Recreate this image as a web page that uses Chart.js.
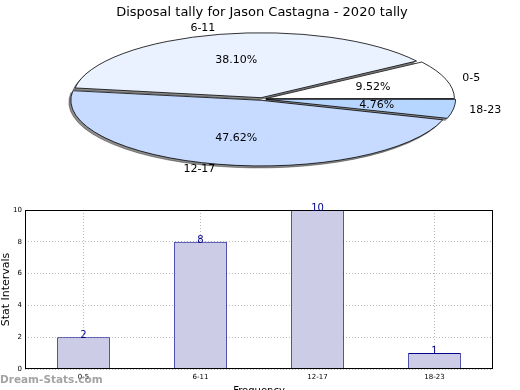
<!DOCTYPE html>
<html lang="en">
<head>
<meta charset="UTF-8">
<title>Disposal tally - Jason Castagna 2020</title>
<script src="https://cdn.jsdelivr.net/npm/chart.js"></script>
<style>
  html, body { margin: 0; padding: 0; background: #fff; width: 520px; height: 390px; overflow: hidden; }
  #barChart, #pieChart { position: absolute; left: 0; top: 0; }
  .watermark {
    position: absolute; left: 0; top: 373px;
    font: bold 10.5px 'DejaVu Sans', sans-serif;
    color: rgba(140, 140, 140, 0.8);
  }
</style>
</head>
<body>
<canvas id="barChart" width="520" height="400"></canvas>
<canvas id="pieChart" width="520" height="200"></canvas>
<div class="watermark">Dream-Stats.com</div>

<script>
// data
const intervals = ['0-5', '6-11', '12-17', '18-23'];
const tally = [2, 8, 10, 1];
const sliceColors = ['#ffffff', '#eaf1ff', '#c6dbff', '#b7d6ff'];

// pie is drawn as a squashed ellipse (like the matplotlib original)
const RX = 187, RY = 64.5;
const SHADOW_DX = -2, SHADOW_DY = 2;
const FONT = "'DejaVu Sans', sans-serif";

const ellipsePie = {
    id: 'ellipsePie',
    beforeDatasetsDraw(chart) {
        const ctx = chart.ctx;
        const arcs = chart.getDatasetMeta(0).data;
        const cx = arcs[0].x, cy = arcs[0].y, r = arcs[0].outerRadius;
        const sx = RX / r, sy = RY / r;
        chart.$ell = { sx, sy };
        const base = ctx.getTransform();
        ctx.save();
        ctx.translate(cx, cy);
        ctx.scale(sx, sy);
        ctx.translate(-cx, -cy);
        // keep border width even although the path is stretched
        ctx.stroke = function () {
            this.save();
            this.setTransform(base);
            CanvasRenderingContext2D.prototype.stroke.call(this);
            this.restore();
        };
        // shadow pass under the slices
        ctx.save();
        ctx.translate(SHADOW_DX / sx, SHADOW_DY / sy);
        ctx.filter = 'brightness(0) opacity(0.45)';
        arcs.forEach(a => a.draw(ctx));
        ctx.restore();
    },
    afterDatasetsDraw(chart) {
        const ctx = chart.ctx;
        delete ctx.stroke;
        ctx.restore();

        const { sx, sy } = chart.$ell;
        const values = chart.data.datasets[0].data;
        const total = values.reduce((s, v) => s + v, 0);
        ctx.save();
        ctx.fillStyle = '#000';
        ctx.font = '11px ' + FONT;
        ctx.textBaseline = 'middle';
        chart.getDatasetMeta(0).data.forEach((arc, i) => {
            const mid = (arc.startAngle + arc.endAngle) / 2;
            const off = (arc.options.offset || 0) / 4;
            const at = k => ({
                x: arc.x + (arc.outerRadius * k + off) * Math.cos(mid) * sx,
                y: arc.y + (arc.outerRadius * k + off) * Math.sin(mid) * sy
            });
            const p = at(0.6);
            ctx.textAlign = 'center';
            ctx.fillText((values[i] / total * 100).toFixed(2) + '%', p.x, p.y);
            const q = at(1.1);
            ctx.textAlign = Math.cos(mid) >= 0 ? 'left' : 'right';
            ctx.fillText(chart.data.labels[i], q.x, q.y);
        });
        ctx.restore();
    }
};

// pie goes clockwise in Chart.js, the original goes counter-clockwise
new Chart(document.getElementById('pieChart'), {
    type: 'pie',
    data: {
        labels: intervals.slice().reverse(),
        datasets: [{
            data: tally.slice().reverse(),
            backgroundColor: sliceColors.slice().reverse(),
            borderColor: '#000',
            borderWidth: 0.8,
            offset: 6,
            clip: false
        }]
    },
    options: {
        responsive: false,
        devicePixelRatio: 1,
        animation: false,
        rotation: 90,
        layout: { padding: { top: 2, bottom: 25.6, left: 4, right: 0 } },
        plugins: {
            legend: { display: false },
            tooltip: { enabled: false },
            title: {
                display: true,
                text: 'Disposal tally for Jason Castagna - 2020 tally',
                color: '#000',
                font: { family: FONT, size: 13, weight: 'normal' },
                padding: { top: 3, bottom: 3 }
            }
        }
    },
    plugins: [ellipsePie]
});

const barExtras = {
    id: 'barExtras',
    afterDraw(chart) {
        const { ctx, chartArea: a } = chart;
        ctx.save();
        ctx.strokeStyle = '#000';
        ctx.lineWidth = 1;
        ctx.strokeRect(Math.round(a.left) + 0.5, Math.round(a.top) + 0.5,
            Math.round(a.right - a.left) - 1, Math.round(a.bottom - a.top) - 1);
        ctx.fillStyle = '#00008b';
        ctx.font = '10px ' + FONT;
        ctx.textAlign = 'center';
        ctx.textBaseline = 'alphabetic';
        const values = chart.data.datasets[0].data;
        chart.getDatasetMeta(0).data.forEach((bar, i) => {
            ctx.fillText(values[i], bar.x, bar.y + 1);
        });
        ctx.restore();
    }
};

const gridStyle = { color: 'rgba(140,140,140,0.6)', lineWidth: 1, drawTicks: false };

new Chart(document.getElementById('barChart'), {
    type: 'bar',
    data: {
        labels: intervals,
        datasets: [{
            data: tally,
            backgroundColor: '#cccce6',
            borderColor: '#00008b',
            borderWidth: 1,
            categoryPercentage: 1,
            barPercentage: 0.45
        }]
    },
    options: {
        responsive: false,
        devicePixelRatio: 1,
        animation: false,
        layout: { padding: { top: 210, right: 27, left: 0, bottom: 0 } },
        plugins: { legend: { display: false }, tooltip: { enabled: false } },
        scales: {
            x: {
                z: 1,
                grid: Object.assign({ offset: false }, gridStyle),
                border: { display: false, dash: [1, 2] },
                ticks: { color: '#000', font: { family: FONT, size: 7 }, padding: 4, maxRotation: 0 },
                title: { display: true, text: 'Frequency', color: '#000', font: { family: FONT, size: 10 }, padding: { top: 0, bottom: 3 } },
                afterFit(scale) { scale.height = 31; }
            },
            y: {
                z: 1,
                min: 0,
                max: 10,
                grid: gridStyle,
                border: { display: false, dash: [1, 2] },
                ticks: { stepSize: 2, color: '#000', font: { family: FONT, size: 7 }, padding: 3 },
                title: { display: true, text: 'Stat Intervals', color: '#000', font: { family: FONT, size: 11 }, padding: 0 },
                afterFit(scale) { scale.width = 25; }
            }
        }
    },
    plugins: [barExtras]
});
</script>
</body>
</html>
